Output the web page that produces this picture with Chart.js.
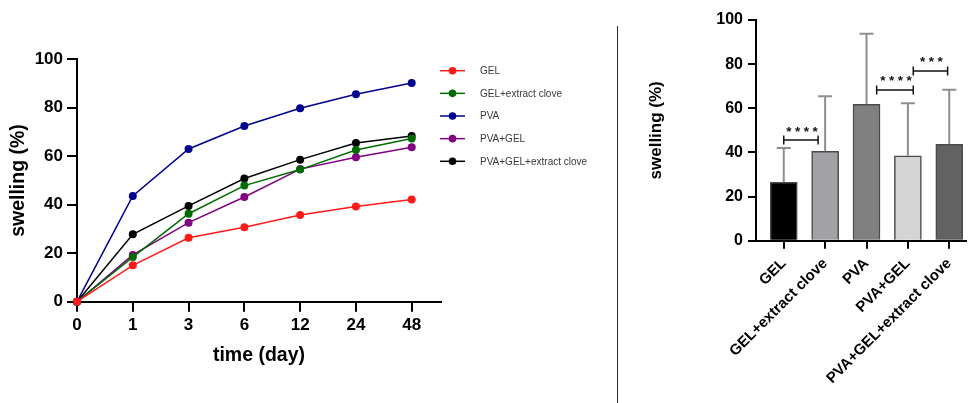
<!DOCTYPE html>
<html><head><meta charset="utf-8">
<script src="https://cdn.jsdelivr.net/npm/chart.js@4.4.1/dist/chart.umd.min.js"></script>
<style>
html,body{margin:0;padding:0;background:#fff;}
#wrap{position:relative;width:968px;height:403px;overflow:hidden;background:#fff;}
#c1{position:absolute;left:0;top:0;}
#c2{position:absolute;left:620px;top:0;}
#sep{position:absolute;left:617px;top:26px;width:1px;height:377px;background:#2a2a2a;}
</style></head><body>
<div id="wrap">
<canvas id="c1" width="620" height="403"></canvas>
<div id="sep"></div>
<canvas id="c2" width="348" height="403"></canvas>
</div>
<script>
// ---- data: left line chart ----
const timeLabels = ['0','1','3','6','12','24','48'];
const gel         = [0, 15.0, 26.4, 30.7, 35.8, 39.3, 42.2];
const gelClove    = [0, 18.4, 36.3, 47.9, 54.5, 62.6, 67.3];
const pva         = [0, 43.6, 63.0, 72.5, 79.8, 85.6, 90.2];
const pvaGel      = [0, 19.3, 32.6, 43.2, 54.7, 59.6, 63.7];
const pvaGelClove = [0, 27.8, 39.5, 50.8, 58.6, 65.5, 68.4];
const seriesNames = ['GEL','GEL+extract clove','PVA','PVA+GEL','PVA+GEL+extract clove'];

// ---- data: right bar chart ----
const groups = ['GEL','GEL+extract clove','PVA','PVA+GEL','PVA+GEL+extract clove'];
const meanSwelling = [26.5, 40.5, 61.8, 38.5, 43.7];
const sdSwelling   = [15.5, 24.9, 32.0, 23.8, 24.7];
// significance comparisons (x in group-index units, y in %)
const sigLabels = ['****','****','***'];
const sigFrom   = [0, 2.245, 3.13];
const sigTo     = [0.83, 3.13, 3.96];
const sigLevel  = [45.6, 68.3, 76.9];

const FONT = '"Liberation Sans", Arial, Helvetica, sans-serif';
Chart.defaults.font.family = FONT;
Chart.defaults.color = '#000';

const lineColors = ['#ff1a1a', '#006b00', '#00008f', '#800080', '#000000'];
const barColors = ['#000000', '#a2a2a6', '#808080', '#d4d4d4', '#626262'];

const seriesValues = [gel, gelClove, pva, pvaGel, pvaGelClove];
const lineDatasets = seriesValues.map((vals, k) => ({
  label: seriesNames[k],
  data: vals.map((v, i) => ({x: i, y: v})),
  borderColor: lineColors[k],
  backgroundColor: lineColors[k],
  borderWidth: 1.5,
  pointRadius: 4,
  pointBorderWidth: 0,
  pointBackgroundColor: lineColors[k],
  tension: 0,
  clip: false
}));

const sideLegend = {
  id: 'sideLegend',
  afterDraw(chart) {
    const ctx = chart.ctx;
    ctx.save();
    ctx.font = '10px ' + FONT;
    ctx.textBaseline = 'middle';
    ctx.textAlign = 'left';
    chart.data.datasets.forEach((ds, i) => {
      const y = 70.7 + i * 22.65;
      ctx.strokeStyle = ds.borderColor;
      ctx.lineWidth = 1.5;
      ctx.beginPath(); ctx.moveTo(440, y); ctx.lineTo(465, y); ctx.stroke();
      ctx.fillStyle = ds.borderColor;
      ctx.beginPath(); ctx.arc(452.5, y, 3.8, 0, Math.PI * 2); ctx.fill();
      ctx.fillStyle = '#383838';
      ctx.fillText(ds.label, 480, y + 0.5);
    });
    ctx.restore();
  }
};

new Chart(document.getElementById('c1'), {
  type: 'line',
  data: {datasets: lineDatasets},
  options: {
    responsive: false, animation: false,
    layout: {padding: {left: 0, top: 59.3, right: 179, bottom: 0}},
    plugins: {legend: {display: false}, tooltip: {enabled: false}},
    scales: {
      x: {
        type: 'linear', min: 0, max: 6.525,
        afterBuildTicks: s => { s.ticks = timeLabels.map((_, i) => ({value: i})); },
        afterFit: s => { s.height = 101.3; },
        ticks: {callback: v => timeLabels[v], font: {size: 17, weight: 'bold'}, color: '#000', padding: 3, maxRotation: 0, autoSkip: false},
        grid: {drawOnChartArea: false, drawTicks: true, tickLength: 10, color: '#000', lineWidth: 2},
        border: {display: true, color: '#000', width: 2},
        title: {display: true, text: 'time (day)', color: '#000', font: {size: 19.5, weight: 'bold'}, padding: {top: 0, bottom: 36}}
      },
      y: {
        min: 0, max: 100,
        afterFit: s => { s.width = 77; },
        ticks: {stepSize: 20, font: {size: 17, weight: 'bold'}, color: '#000', padding: 4},
        grid: {drawOnChartArea: false, drawTicks: true, tickLength: 10, color: '#000', lineWidth: 2},
        border: {display: true, color: '#000', width: 2},
        title: {display: true, text: 'swelling (%)', color: '#000', font: {size: 19.5, weight: 'bold'}, padding: {top: 7, bottom: 0}}
      }
    }
  },
  plugins: [sideLegend]
});

const errorAndSig = {
  id: 'errorAndSig',
  afterDatasetsDraw(chart) {
    const ctx = chart.ctx, xs = chart.scales.x, ys = chart.scales.y;
    ctx.save();
    // error bars (upper only)
    ctx.strokeStyle = '#8e8e8e';
    ctx.lineWidth = 2;
    meanSwelling.forEach((m, i) => {
      const x = xs.getPixelForValue(i);
      const y1 = ys.getPixelForValue(m);
      const y2 = ys.getPixelForValue(m + sdSwelling[i]);
      ctx.beginPath(); ctx.moveTo(x, y1); ctx.lineTo(x, y2);
      ctx.moveTo(x - 7, y2); ctx.lineTo(x + 7, y2); ctx.stroke();
    });
    // significance brackets
    ctx.strokeStyle = '#111';
    ctx.lineWidth = 1.5;
    ctx.fillStyle = '#111';
    ctx.font = 'bold 13.5px ' + FONT;
    ctx.textAlign = 'center';
    ctx.textBaseline = 'alphabetic';
    let shift = 1;
    try { ctx.letterSpacing = '3.5px'; shift = 2.75; } catch (e) {}
    sigLabels.forEach((lab, k) => {
      const xa = xs.getPixelForValue(sigFrom[k]);
      const xb = xs.getPixelForValue(sigTo[k]);
      const y = ys.getPixelForValue(sigLevel[k]);
      ctx.beginPath();
      ctx.moveTo(xa, y); ctx.lineTo(xb, y);
      ctx.moveTo(xa, y - 4.5); ctx.lineTo(xa, y + 4.5);
      ctx.moveTo(xb, y - 4.5); ctx.lineTo(xb, y + 4.5);
      ctx.stroke();
      ctx.fillText(lab, (xa + xb) / 2 + shift, y - 4.5);
    });
    ctx.restore();
  }
};

new Chart(document.getElementById('c2'), {
  type: 'bar',
  data: {datasets: [{
    data: meanSwelling.map((v, i) => ({x: i, y: v})),
    backgroundColor: barColors,
    borderColor: '#4a4a4a',
    borderWidth: 1.5,
    barThickness: 27
  }]},
  options: {
    responsive: false, animation: false,
    layout: {padding: {left: 0, top: 20, right: 0, bottom: 0}},
    plugins: {legend: {display: false}, tooltip: {enabled: false}},
    scales: {
      x: {
        type: 'linear', min: -0.671, max: 4.407, offset: false,
        afterBuildTicks: s => { s.ticks = groups.map((_, i) => ({value: i})); },
        afterFit: s => { s.height = 162.3; },
        ticks: {callback: v => groups[v], font: {size: 15, weight: 'bold'}, color: '#000', padding: 6, minRotation: 45, maxRotation: 45, autoSkip: false},
        grid: {offset: false, drawOnChartArea: false, drawTicks: true, tickLength: 8, color: '#000', lineWidth: 2},
        border: {display: true, color: '#000', width: 2}
      },
      y: {
        min: 0, max: 100,
        afterFit: s => { s.width = 136; },
        ticks: {stepSize: 20, font: {size: 16, weight: 'bold'}, color: '#000', padding: 5},
        grid: {drawOnChartArea: false, drawTicks: true, tickLength: 8, color: '#000', lineWidth: 2},
        border: {display: true, color: '#000', width: 2},
        title: {display: true, text: 'swelling (%)', color: '#000', font: {size: 17, weight: 'bold'}, padding: {top: 26.5, bottom: 0}}
      }
    }
  },
  plugins: [errorAndSig]
});
</script>
</body></html>
